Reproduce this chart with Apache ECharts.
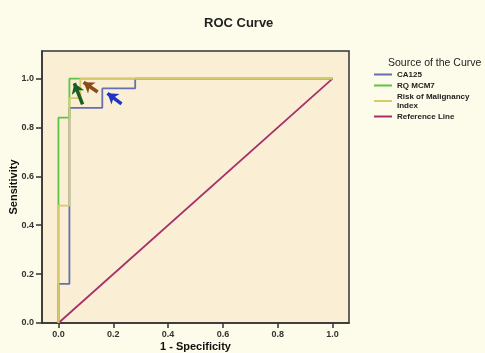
<!DOCTYPE html>
<html>
<head>
<meta charset="utf-8">
<script src="https://cdn.jsdelivr.net/npm/echarts@6/dist/echarts.min.js"></script>
<style>
  html, body { margin: 0; padding: 0; background: #fdfbe9; }
  #chart { width: 485px; height: 353px; }
</style>
</head>
<body>
<div id="chart"></div>
<script>
  // ROC points (1 - specificity, sensitivity)
  const ca125Fpr = [0, 0, 0.04, 0.04, 0.16, 0.16, 0.28, 0.28, 1];
  const ca125Tpr = [0, 0.16, 0.16, 0.88, 0.88, 0.96, 0.96, 1, 1];
  const mcm7Fpr = [0, 0, 0.04, 0.04, 1];
  const mcm7Tpr = [0, 0.84, 0.84, 1, 1];
  const rmiFpr = [0, 0, 0.04, 0.04, 0.08, 0.08, 1];
  const rmiTpr = [0, 0.48, 0.48, 0.92, 0.92, 1, 1];
  const refFpr = [0, 1];
  const refTpr = [0, 1];

  const tickValues = [0, 0.2, 0.4, 0.6, 0.8, 1.0];

  // annotation arrows: tail -> tip
  const greenArrow = [[0.088, 0.895], [0.058, 0.981]];
  const brownArrow = [[0.143, 0.945], [0.092, 0.985]];
  const blueArrow = [[0.230, 0.897], [0.179, 0.940]];

  const pts = (xs, ys) => xs.map((x, i) => [x, ys[i]]);

  const arrow = (p, color) => ({
    silent: true,
    symbol: ["none", "arrow"],
    symbolSize: [10, 10],
    label: { show: false },
    lineStyle: { color: color, width: 3.5, type: "solid" },
    data: [[{ coord: p[0] }, { coord: p[1] }]],
  });

  const chart = echarts.init(document.getElementById("chart"));

  const option = {
    backgroundColor: "#fdfbe9",
    animation: false,
    title: [
      {
        text: "ROC Curve",
        left: 199,
        top: 12,
        textStyle: { fontFamily: "Liberation Sans", fontSize: 13, fontWeight: "bold", color: "#222" },
      },
      {
        text: "Source of the Curve",
        left: 383,
        top: 53,
        textStyle: { fontFamily: "Liberation Sans", fontSize: 10.5, fontWeight: "normal", color: "#222" },
      },
    ],
    legend: {
      orient: "vertical",
      left: 369,
      top: 65,
      icon: "rect",
      itemWidth: 18,
      itemHeight: 2,
      itemGap: 2,
      selectedMode: false,
      textStyle: { fontFamily: "Liberation Sans", fontSize: 8, fontWeight: "bold", color: "#222", lineHeight: 9 },
      formatter: (name) => (name === "Risk of Malignancy Index" ? "Risk of Malignancy\nIndex" : name),
      data: ["CA125", "RQ MCM7", "Risk of Malignancy Index", "Reference Line"],
    },
    grid: {
      left: 42,
      right: 136,
      top: 51,
      bottom: 30,
      outerBoundsMode: "none",
      containLabel: false,
      show: true,
      backgroundColor: "#faefd5",
      borderColor: "#333",
      borderWidth: 1.5,
    },
    xAxis: {
      type: "value",
      min: -0.06,
      max: 1.06,
      name: "1 - Specificity",
      nameLocation: "middle",
      nameGap: 18,
      nameMoveOverlap: false,
      nameTextStyle: { fontFamily: "Liberation Sans", fontSize: 11, fontWeight: "bold", color: "#111" },
      axisLine: { show: true, onZero: false, lineStyle: { color: "#333", width: 1.5 } },
      axisTick: { show: true, length: 5, customValues: tickValues, lineStyle: { color: "#333", width: 1.5 } },
      axisLabel: {
        customValues: tickValues,
        margin: 7,
        fontFamily: "Liberation Sans",
        fontSize: 9,
        fontWeight: "bold",
        color: "#333",
        formatter: (v) => v.toFixed(1),
      },
      splitLine: { show: false },
    },
    yAxis: {
      type: "value",
      min: 0,
      max: 1.113,
      name: "Sensitivity",
      nameLocation: "middle",
      nameGap: 23,
      nameMoveOverlap: false,
      nameTextStyle: { fontFamily: "Liberation Sans", fontSize: 11, fontWeight: "bold", color: "#111" },
      axisLine: { show: true, onZero: false, lineStyle: { color: "#333", width: 1.5 } },
      axisTick: { show: true, length: 6, customValues: tickValues, lineStyle: { color: "#333", width: 1.5 } },
      axisLabel: {
        customValues: tickValues,
        margin: 8,
        fontFamily: "Liberation Sans",
        fontSize: 9,
        fontWeight: "bold",
        color: "#333",
        formatter: (v) => v.toFixed(1),
      },
      splitLine: { show: false },
    },
    series: [
      {
        name: "Reference Line",
        type: "line",
        showSymbol: false,
        color: "#a8306a",
        lineStyle: { width: 1.8 },
        data: pts(refFpr, refTpr),
      },
      {
        name: "CA125",
        type: "line",
        showSymbol: false,
        color: "#6670b0",
        lineStyle: { width: 1.8 },
        data: pts(ca125Fpr, ca125Tpr),
        markLine: arrow(blueArrow, "#1f33c4"),
      },
      {
        name: "RQ MCM7",
        type: "line",
        showSymbol: false,
        color: "#5cc447",
        lineStyle: { width: 1.8 },
        data: pts(mcm7Fpr, mcm7Tpr),
        markLine: arrow(greenArrow, "#1c5e22"),
      },
      {
        name: "Risk of Malignancy Index",
        type: "line",
        showSymbol: false,
        color: "#d6cb6a",
        lineStyle: { width: 1.8 },
        data: pts(rmiFpr, rmiTpr),
        markLine: arrow(brownArrow, "#8a4b1c"),
      },
    ],
  };

  chart.setOption(option);
</script>
</body>
</html>
